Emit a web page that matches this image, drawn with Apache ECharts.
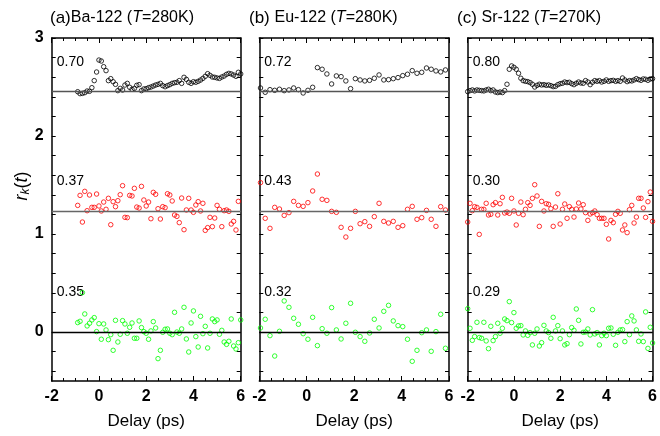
<!DOCTYPE html>
<html><head><meta charset="utf-8">
<script src="https://cdn.jsdelivr.net/npm/echarts@6/dist/echarts.min.js"></script>
<style>html,body{margin:0;padding:0;background:#fff}#c{width:660px;height:436px}</style>
</head><body><div id="c"></div>
<script>
// ---------- data ----------
const delayA = [-0.9,-0.8,-0.7,-0.6,-0.5,-0.4,-0.3,-0.2,-0.1,0,0.1,0.2,0.3,0.4,0.5,0.6,0.7,0.8,0.9,1.0,1.1,1.2,1.3,1.4,1.5,1.6,1.7,1.8,1.9,2.0,2.1,2.2,2.3,2.4,2.5,2.6,2.7,2.8,2.9,3.0,3.1,3.2,3.3,3.4,3.5,3.6,3.7,3.8,3.9,4.0,4.1,4.2,4.3,4.4,4.5,4.6,4.7,4.8,4.9,5.0,5.1,5.2,5.3,5.4,5.5,5.6,5.7,5.8,5.9,6.0];
const blackA = [2.452,2.432,2.435,2.442,2.459,2.456,2.493,2.565,2.653,2.775,2.765,2.707,2.667,2.565,2.585,2.554,2.527,2.463,2.486,2.469,2.520,2.537,2.497,2.476,2.486,2.517,2.524,2.463,2.480,2.483,2.493,2.500,2.510,2.520,2.527,2.537,2.514,2.503,2.514,2.524,2.537,2.544,2.548,2.565,2.537,2.599,2.578,2.548,2.537,2.554,2.548,2.558,2.571,2.588,2.609,2.636,2.619,2.602,2.599,2.592,2.588,2.602,2.612,2.629,2.639,2.633,2.622,2.609,2.650,2.633];
const redA = [1.292,1.394,1.122,1.435,1.238,1.398,1.272,1.272,1.408,1.286,1.235,1.326,1.252,1.364,1.095,1.330,1.279,1.340,1.401,1.493,1.170,1.167,1.394,1.388,1.466,1.275,1.265,1.486,1.347,1.286,1.326,1.156,1.425,1.405,1.258,1.153,1.279,1.269,1.411,1.398,1.337,1.194,1.180,1.116,1.367,1.044,1.245,1.364,1.245,1.221,1.296,1.330,1.235,1.313,1.037,1.065,1.170,1.075,1.163,1.292,1.252,1.075,1.238,1.245,1.231,1.102,1.129,1.041,1.333];
const greenA = [0.096,0.109,0.402,0.184,0.062,0.089,0.123,0.147,0.004,0.085,-0.074,0.082,0.021,-0.078,-0.027,-0.187,0.119,-0.102,-0.023,0.116,0.082,-0.013,0.048,0.092,-0.064,-0.064,0.113,0.045,0.004,-0.013,-0.074,0.011,0.106,0.041,-0.272,-0.187,-0.003,0.028,0.031,-0.013,-0.027,0.201,0.0,-0.013,0.031,0.252,-0.071,-0.204,0.092,0.215,-0.047,-0.153,0.160,-0.017,0.058,-0.163,-0.013,0.133,0.106,0.123,-0.023,0.017,-0.102,-0.126,-0.095,0.133,-0.143,-0.173,-0.109,0.123];

const delayB = [-1.95,-1.75,-1.55,-1.35,-1.15,-0.95,-0.75,-0.55,-0.35,-0.15,0.05,0.25,0.45,0.65,0.85,1.05,1.25,1.45,1.65,1.85,2.05,2.25,2.45,2.65,2.85,3.05,3.25,3.45,3.65,3.85,4.05,4.25,4.45,4.65,4.85,5.05,5.25,5.45,5.65,5.85];
const blackB = [2.490,2.446,2.473,2.466,2.477,2.463,2.470,2.490,2.473,2.439,2.466,2.497,2.698,2.681,2.633,2.531,2.613,2.606,2.562,2.483,2.585,2.572,2.562,2.568,2.589,2.623,2.572,2.575,2.585,2.596,2.616,2.630,2.667,2.640,2.650,2.694,2.681,2.664,2.654,2.674];
const redB = [1.524,1.160,1.058,1.272,1.255,1.190,1.218,1.333,1.292,1.282,1.320,1.439,1.612,1.354,1.343,1.231,1.221,1.068,0.969,1.058,1.231,1.105,1.126,1.078,1.177,1.313,1.129,1.112,1.129,1.068,1.085,1.252,1.282,1.150,1.167,1.241,1.150,1.078,1.279,1.245];
const greenB = [0.041,0.130,-0.037,-0.245,0.007,0.317,0.252,0.140,0.079,-0.017,-0.074,0.150,-0.139,0.034,-0.013,0.249,0.021,-0.071,0.089,0.293,-0.003,-0.047,-0.095,-0.010,0.130,0.041,0.211,0.272,0.113,0.065,0.055,-0.074,-0.299,-0.187,-0.007,0.021,-0.197,0.004,0.181,-0.166];

const delayC = [-2.0,-1.9,-1.8,-1.7,-1.6,-1.5,-1.4,-1.3,-1.2,-1.1,-1.0,-0.9,-0.8,-0.7,-0.6,-0.5,-0.4,-0.3,-0.2,-0.1,0,0.1,0.2,0.3,0.4,0.5,0.6,0.7,0.8,0.9,1.0,1.1,1.2,1.3,1.4,1.5,1.6,1.7,1.8,1.9,2.0,2.1,2.2,2.3,2.4,2.5,2.6,2.7,2.8,2.9,3.0,3.1,3.2,3.3,3.4,3.5,3.6,3.7,3.8,3.9,4.0,4.1,4.2,4.3,4.4,4.5,4.6,4.7,4.8,4.9,5.0,5.1,5.2,5.3,5.4,5.5,5.6,5.7,5.8,5.9,6.0];
const blackC = [2.453,2.463,2.470,2.460,2.470,2.466,2.463,2.460,2.470,2.477,2.463,2.470,2.449,2.443,2.449,2.443,2.463,2.528,2.681,2.715,2.701,2.681,2.640,2.589,2.565,2.558,2.555,2.545,2.528,2.500,2.517,2.528,2.521,2.524,2.517,2.521,2.514,2.504,2.507,2.524,2.534,2.538,2.551,2.545,2.548,2.534,2.524,2.538,2.551,2.541,2.538,2.565,2.551,2.524,2.548,2.565,2.558,2.565,2.551,2.558,2.572,2.558,2.565,2.568,2.558,2.565,2.558,2.592,2.572,2.555,2.565,2.562,2.572,2.585,2.575,2.568,2.582,2.579,2.568,2.582,2.585];
const redC = [1.122,1.313,1.238,1.279,1.272,0.996,1.252,1.252,1.313,1.194,1.201,1.299,1.320,1.194,1.309,1.374,1.214,1.224,1.211,1.364,1.235,1.092,1.211,1.326,1.197,1.252,1.320,1.292,1.364,1.503,1.388,1.078,1.333,1.235,1.309,1.303,1.258,1.078,1.275,1.411,1.102,1.252,1.306,1.160,1.279,1.252,1.173,1.255,1.316,1.255,1.299,1.218,1.139,1.204,1.218,1.235,1.197,1.160,1.160,1.160,1.099,0.949,1.139,1.116,1.201,1.231,1.211,1.041,1.092,1.014,1.248,1.292,1.112,1.173,1.364,1.364,1.265,1.170,1.330,1.428,1.129];
const greenC = [0.238,0.038,-0.085,-0.047,0.099,-0.057,-0.064,0.099,-0.091,-0.170,0.058,-0.088,-0.047,0.089,-0.013,0.038,0.133,0.116,0.310,0.096,0.198,0.038,0.062,0.065,-0.030,0.011,-0.034,-0.006,-0.132,-0.013,0.031,-0.143,-0.109,0.068,0.011,-0.006,-0.064,0.150,0.011,0.065,-0.068,0.011,-0.132,-0.119,-0.027,0.045,0.017,0.235,0.119,-0.122,-0.003,0.0,0.031,-0.030,0.228,-0.020,-0.006,-0.132,-0.037,-0.013,-0.037,0.038,0.041,-0.023,-0.136,-0.003,0.021,0.024,-0.098,0.106,-0.027,0.164,0.113,0.021,-0.095,-0.020,-0.098,0.205,-0.167,0.048,-0.112];

const baselines = [[2.455,1.225,0],[2.456,1.228,0],[2.459,1.228,0]];
const panelTitles = [['(a)','Ba-122 (','T','=280K)'],['(b) ','Eu-122 (','T','=280K)'],['(c) ','Sr-122 (','T','=270K)']];
const ampLabels = [['0.70','0.37','0.35'],['0.72','0.43','0.32'],['0.80','0.30','0.29']];
const yTickVals = [-0.4,-0.2,0,0.2,0.4,0.6,0.8,1.0,1.2,1.4,1.6,1.8,2.0,2.2,2.4,2.6,2.8,3.0];
const yLabelVals = [0,1,2,3];

// ---------- layout ----------
const FONT = 'Liberation Sans, Arial, sans-serif';
const gridsPx = [{left:51.7,width:189},{left:259.3,width:189.7},{left:467.7,width:188.3}];
const TOP = 38, HEIGHT = 343;
const panels = [
  {x:delayA, k:blackA, r:redA, g:greenA},
  {x:delayB, k:blackB, r:redB, g:greenB},
  {x:delayC, k:blackC, r:redC, g:greenC}
];
const zip = (xs, ys) => ys.map((v,i)=>[xs[i], v]);

const grid=[], xAxis=[], yAxis=[], series=[];
gridsPx.forEach((gp,i)=>{
  grid.push({left:gp.left, top:TOP, width:gp.width, height:HEIGHT, containLabel:false});
  const lineStyle = {color:'#000', width:1.5};
  const tickBase = {show:true, inside:true, lineStyle:{color:'#000', width:1}};
  xAxis.push({type:'value', gridIndex:i, min:-2, max:6, interval:2, position:'bottom',
    axisLine:{show:true, onZero:false, lineStyle},
    axisTick:Object.assign({}, tickBase, {length:5}),
    minorTick:{show:true, splitNumber:4, length:3, lineStyle:{color:'#000', width:1}},
    splitLine:{show:false}, minorSplitLine:{show:false},
    axisLabel:{show:true, color:'#000', fontSize:16, fontWeight:'bold', fontFamily:FONT, margin:8},
    name:'Delay (ps)', nameLocation:'middle', nameGap:32,
    nameTextStyle:{color:'#000', fontSize:17, fontFamily:FONT}
  });
  xAxis.push({type:'value', gridIndex:i, min:-2, max:6, interval:2, position:'top',
    axisLine:{show:true, onZero:false, lineStyle},
    axisTick:Object.assign({}, tickBase, {length:5}),
    minorTick:{show:true, splitNumber:4, length:3, lineStyle:{color:'#000', width:1}},
    splitLine:{show:false}, axisLabel:{show:false}
  });
  yAxis.push({type:'value', gridIndex:i, min:-0.5, max:3, position:'left',
    axisLine:{show:true, onZero:false, lineStyle},
    axisTick:Object.assign({}, tickBase, {length:4, customValues:yTickVals}),
    splitLine:{show:false},
    axisLabel:{show:i===0, customValues:yLabelVals, color:'#000', fontSize:16, fontWeight:'bold', fontFamily:FONT, margin:8}
  });
  yAxis.push({type:'value', gridIndex:i, min:-0.5, max:3, position:'right',
    axisLine:{show:true, onZero:false, lineStyle},
    axisTick:Object.assign({}, tickBase, {length:4, customValues:yTickVals}),
    splitLine:{show:false}, axisLabel:{show:false}
  });
  const p = panels[i];
  const sets = [[p.k,'#000000','#555555',baselines[i][0]],[p.r,'#ff0000','#666666',baselines[i][1]],[p.g,'#00ff00','#000000',baselines[i][2]]];
  sets.forEach(([vals,col,lc,base])=>{
    series.push({type:'scatter', xAxisIndex:2*i, yAxisIndex:2*i, data:zip(p.x, vals),
      symbol:'circle', symbolSize:4.5, silent:true, animation:false,
      itemStyle:{color:'rgba(255,255,255,0)', borderColor:col, borderWidth:1},
      markLine:{silent:true, symbol:['none','none'], animation:false, label:{show:false},
        lineStyle:{color:lc, width:1.3, type:'solid'}, data:[{yAxis:base}]}
    });
  });
});

const chart = echarts.init(document.getElementById('c'), null, {renderer:'canvas'});
chart.setOption({animation:false, backgroundColor:'#fff', grid, xAxis, yAxis, series});

// ---------- texts ----------
const ampY = [2.752, 1.544, 0.405];
const graphic = [];
gridsPx.forEach((gp,i)=>{
  ampLabels[i].forEach((t,j)=>{
    const pt = chart.convertToPixel({gridIndex:i}, [-2, ampY[j]]);
    graphic.push({type:'text', x:gp.left+5, y:pt[1], silent:true,
      style:{text:t, fill:'#000', font:'14px '+FONT, textAlign:'left', textVerticalAlign:'middle'}});
  });
  const tt = panelTitles[i];
  graphic.push({type:'text', x:[50,249,457][i], y:18, silent:true,
    style:{text:'{p|'+tt[0]+'}{n|'+tt[1]+'}{i|'+tt[2]+'}{n|'+tt[3]+'}', textVerticalAlign:'middle', textAlign:'left', fill:'#000',
      rich:{p:{fontSize:17, fontFamily:FONT, fill:'#000'}, n:{fontSize:16, fontFamily:FONT, fill:'#000'}, i:{fontSize:16, fontStyle:'italic', fontFamily:FONT, fill:'#000'}}}});
});
graphic.push({type:'text', x:22, y:186, rotation:Math.PI/2, silent:true,
  style:{text:'{i|r}{s|k}{n|(}{i|t}{n|)}', textAlign:'center', textVerticalAlign:'middle', fill:'#000',
    rich:{i:{fontSize:18, fontStyle:'italic', fontFamily:FONT, fill:'#000'},
          s:{fontSize:12, fontStyle:'italic', fontFamily:FONT, fill:'#000', verticalAlign:'bottom', padding:[8,0,0,0]},
          n:{fontSize:18, fontFamily:FONT, fill:'#000'}}}});
chart.setOption({graphic});
</script></body></html>
